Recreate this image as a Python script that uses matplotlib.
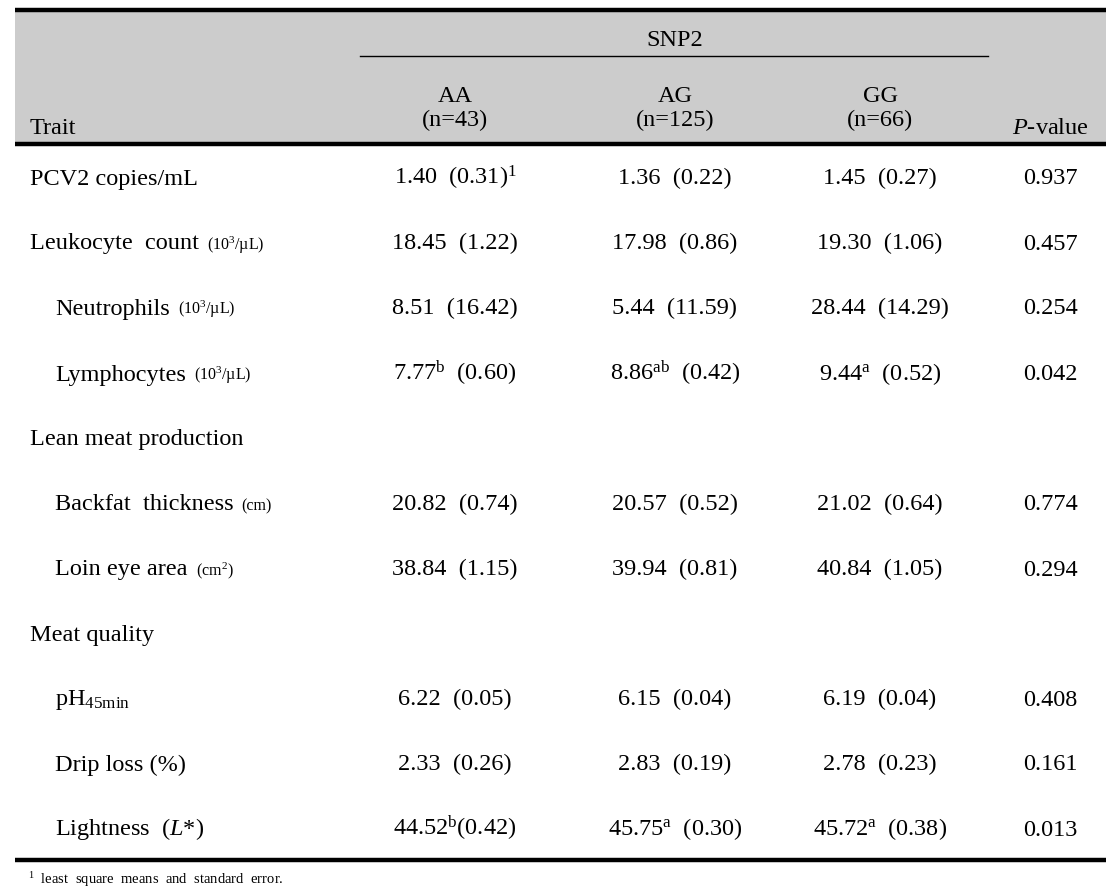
import matplotlib.pyplot as plt

plt.rcParams['font.family'] = ['Liberation Serif', 'DejaVu Serif']
plt.rcParams['mathtext.fontset'] = 'custom'
plt.rcParams['mathtext.rm'] = 'Liberation Serif'
plt.rcParams['mathtext.it'] = 'Liberation Serif:italic'

# table data
genotypes = ['AA', 'AG', 'GG']
group_n = [43, 125, 66]
traits = ['PCV2 copies/mL', 'Leukocyte  count', 'Neutrophils', 'Lymphocytes',
          'Lean meat production', 'Backfat  thickness', 'Loin eye area',
          'Meat quality', r'pH$_{\mathregular{45min}}$', 'Drip loss (%)',
          r'Lightness  ($\mathit{L}$*)']
units = ['', r'(10$^{\mathregular{3}}$/µL)', r'(10$^{\mathregular{3}}$/µL)', r'(10$^{\mathregular{3}}$/µL)', '',
         '(cm)', r'(cm$^{\mathregular{2}}$)', '', '', '', '']
indent = [0, 0, 1, 1, 0, 1, 1, 0, 1, 1, 1]
aa_mean = ['1.40', '18.45', '8.51', '7.77', None, '20.82', '38.84', None, '6.22', '2.33', '44.52']
aa_se = ['0.31', '1.22', '16.42', '0.60', None, '0.74', '1.15', None, '0.05', '0.26', '0.42']
ag_mean = ['1.36', '17.98', '5.44', '8.86', None, '20.57', '39.94', None, '6.15', '2.83', '45.75']
ag_se = ['0.22', '0.86', '11.59', '0.42', None, '0.52', '0.81', None, '0.04', '0.19', '0.30']
gg_mean = ['1.45', '19.30', '28.44', '9.44', None, '21.02', '40.84', None, '6.19', '2.78', '45.72']
gg_se = ['0.27', '1.06', '14.29', '0.52', None, '0.64', '1.05', None, '0.04', '0.23', '0.38']
aa_sup = ['', '', '', 'b', '', '', '', '', '', '', 'b']
ag_sup = ['', '', '', 'ab', '', '', '', '', '', '', 'a']
gg_sup = ['', '', '', 'a', '', '', '', '', '', '', 'a']
p_values = ['0.937', '0.457', '0.254', '0.042', None, '0.774', '0.294', None, '0.408', '0.161', '0.013']
footnote = 'least  square  means  and  standard  error.'

fig = plt.figure(figsize=(11.11, 8.94), dpi=100)
ax = fig.add_axes([0, 0, 1, 1])
ax.set_xlim(0, 1111)
ax.set_ylim(894, 0)
ax.axis('off')

x0, x1 = 15, 1106
col_x = [455, 675, 880]
p_x = 1050
fs = 17.5
base = 6.5  # baseline offset below visual centre

# header band
ax.fill_between([x0, x1], 10, 144, color='#cccccc', lw=0)
ax.plot([x0, x1], [10, 10], color='black', lw=3.2, solid_capstyle='butt')
ax.plot([x0, x1], [144, 144], color='black', lw=3.2, solid_capstyle='butt')
ax.plot([360, 988], [56, 56], color='black', lw=1)
ax.text(675, 40 + base, 'SNP2', ha='center', va='baseline', fontsize=fs)
for x, g, n in zip(col_x, genotypes, group_n):
    ax.text(x, 95 + base, g, ha='center', va='baseline', fontsize=fs)
    ax.text(x, 120 + base, f'(n={n})', ha='center', va='baseline', fontsize=fs)
ax.text(30, 127 + base, 'Trait', ha='left', va='baseline', fontsize=fs)
ax.text(p_x, 127 + base, r'$\mathit{P}$-value', ha='center', va='baseline', fontsize=fs)

# body rows
row_y = [178, 243, 308, 374, 439, 504, 569, 634, 699, 764, 829]
fig.canvas.draw()
for i, y in enumerate(row_y):
    tx = 55 if indent[i] else 30
    t = ax.text(tx, y + base, traits[i], ha='left', va='baseline', fontsize=fs)
    if units[i]:
        bb = t.get_window_extent(renderer=fig.canvas.get_renderer())
        ux = ax.transData.inverted().transform((bb.x1, 0))[0]
        ax.text(ux + 8, y + base, units[i], ha='left', va='baseline', fontsize=11.5)
    if aa_mean[i] is None:
        continue
    cols = [(aa_mean, aa_se, aa_sup), (ag_mean, ag_se, ag_sup), (gg_mean, gg_se, gg_sup)]
    for k, (m, s, sp) in enumerate(cols):
        sup = f'$^{{\\mathregular{{{sp[i]}}}}}$' if sp[i] else ''
        gap = '' if (k == 0 and i == 10) else '  '
        tail = r'$^{\mathregular{1}}$' if (k == 0 and i == 0) else ''
        ax.text(col_x[k], y + base, f'{m[i]}{sup}{gap}({s[i]}){tail}', ha='center',
                va='baseline', fontsize=fs)
    ax.text(p_x, y + base, p_values[i], ha='center', va='baseline', fontsize=fs)

ax.plot([x0, x1], [860, 860], color='black', lw=3.2, solid_capstyle='butt')
ax.text(28, 884, r'$^{\mathregular{1}}$  ' + footnote, ha='left', va='baseline', fontsize=10.5)

fig.savefig('out.png', dpi=100)
